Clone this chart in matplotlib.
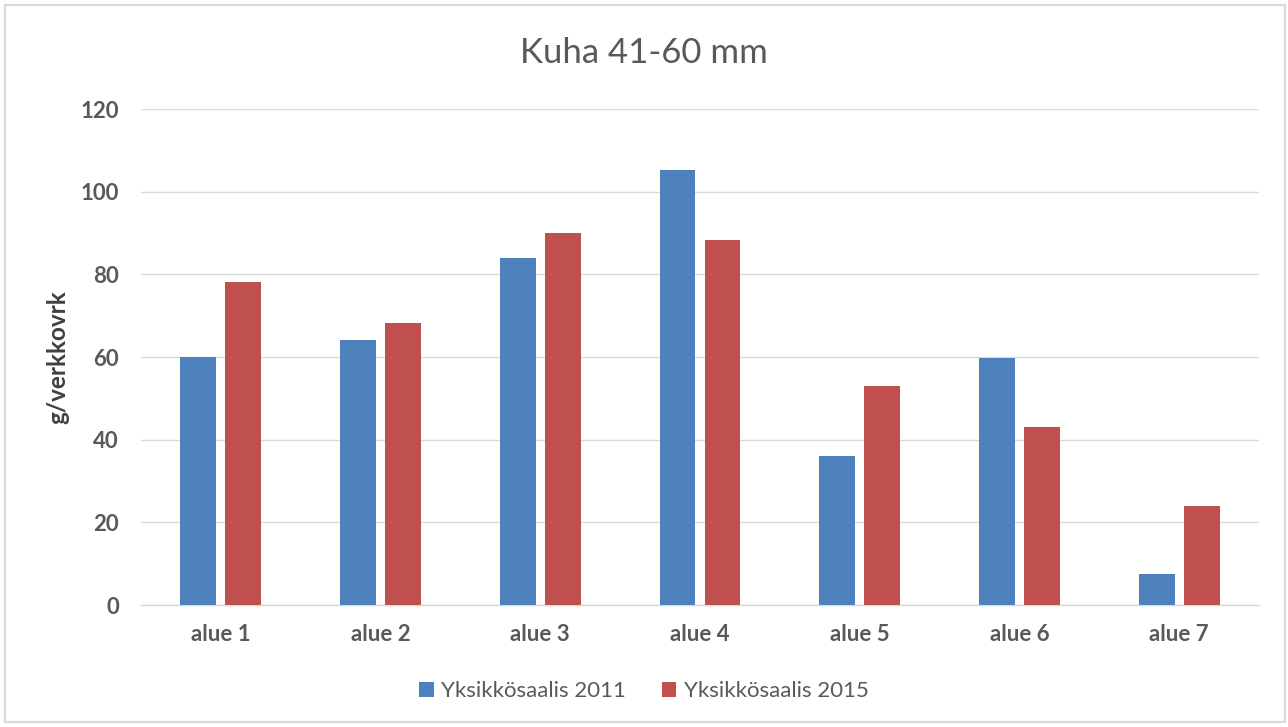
import matplotlib
matplotlib.use("Agg")
import matplotlib.pyplot as plt
from matplotlib.patches import Rectangle
import numpy as np

categories = ["alue 1", "alue 2", "alue 3", "alue 4", "alue 5", "alue 6", "alue 7"]
series_2011 = [60.0, 64.1, 84.0, 105.2, 36.0, 59.8, 7.4]
series_2015 = [78.2, 68.2, 90.0, 88.3, 53.0, 43.1, 24.0]
series_names = ["Yksikkösaalis 2011", "Yksikkösaalis 2015"]
yticks = [0, 20, 40, 60, 80, 100, 120]

plt.rcParams['font.family'] = ['Lato', 'DejaVu Sans']

fig = plt.figure(figsize=(12.88, 7.27), dpi=100)
fig.patches.append(Rectangle((5/1288, 5/727), 1280/1288, 717/727, transform=fig.transFigure,
                             fill=False, edgecolor='#d9d9d9', linewidth=1.5))
ax = fig.add_axes([141/1288, 1 - 605/727, 1118/1288, 496/727])

x = np.arange(len(categories))
w = 0.225
off = 0.141
ax.bar(x - off, series_2011, width=w, color='#4f81bd', label=series_names[0], zorder=3)
ax.bar(x + off, series_2015, width=w, color='#c0504d', label=series_names[1], zorder=3)

ax.set_xlim(-0.5, len(categories) - 0.5)
ax.set_ylim(0, 120)
ax.set_yticks(yticks)
ax.set_xticks(x)
ax.set_xticklabels(categories)
ax.grid(axis='y', color='#d9d9d9', linewidth=1, zorder=0)
for s in ['top', 'right', 'left']:
    ax.spines[s].set_visible(False)
ax.spines['bottom'].set_color('#d9d9d9')
ax.spines['bottom'].set_linewidth(1)
ax.tick_params(axis='both', length=0, colors='#595959', labelsize=16)
ax.tick_params(axis='x', pad=14)
ax.tick_params(axis='y', pad=16)
for lab in ax.get_xticklabels() + ax.get_yticklabels():
    lab.set_fontweight('bold')

ax.set_ylabel('g/verkkovrk', fontsize=17.5, fontweight='bold', color='#404040', labelpad=8)
fig.text(0.5, 1 - 53/727, 'Kuha 41-60 mm', ha='center', va='center', fontsize=25, color='#595959')

leg = fig.legend(loc='center', bbox_to_anchor=(0.5, 1 - 691/727), ncol=2, frameon=False,
                 fontsize=16, handlelength=0.65, handleheight=0.65, handletextpad=0.35, columnspacing=1.6)
for t in leg.get_texts():
    t.set_color('#595959')

fig.savefig('out.png', dpi=100)
